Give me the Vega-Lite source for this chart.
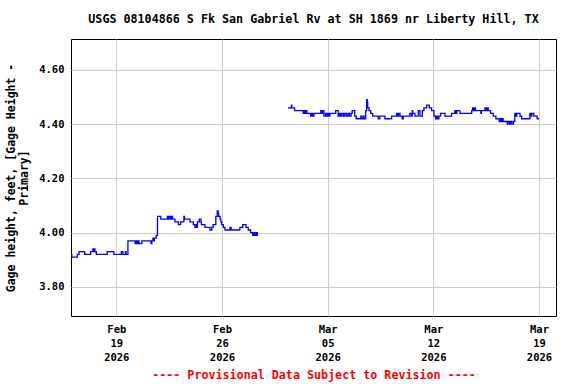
{
  "$schema": "https://vega.github.io/schema/vega-lite/v6.json",
  "width": 485,
  "height": 277,
  "autosize": {"type": "none"},
  "padding": {"left": 71, "top": 39, "right": 20, "bottom": 68},
  "background": "white",
  "config": {
    "view": {"stroke": "black", "strokeWidth": 1},
    "font": "DejaVu Sans Mono"
  },
  "title": {
    "text": "USGS 08104866 S Fk San Gabriel Rv at SH 1869 nr Liberty Hill, TX",
    "font": "DejaVu Sans Mono",
    "fontSize": 11.7,
    "fontWeight": "bold",
    "color": "black",
    "anchor": "middle",
    "offset": 13
  },
  "data": {
    "values": [
      {"t": "2026-02-16T00:00Z", "v": 3.92, "seg": 1},
      {"t": "2026-02-16T01:15Z", "v": 3.91, "seg": 1},
      {"t": "2026-02-16T10:00Z", "v": 3.92, "seg": 1},
      {"t": "2026-02-16T12:45Z", "v": 3.93, "seg": 1},
      {"t": "2026-02-16T21:45Z", "v": 3.92, "seg": 1},
      {"t": "2026-02-17T07:15Z", "v": 3.93, "seg": 1},
      {"t": "2026-02-17T10:45Z", "v": 3.94, "seg": 1},
      {"t": "2026-02-17T12:00Z", "v": 3.93, "seg": 1},
      {"t": "2026-02-17T12:45Z", "v": 3.94, "seg": 1},
      {"t": "2026-02-17T14:00Z", "v": 3.93, "seg": 1},
      {"t": "2026-02-17T16:15Z", "v": 3.92, "seg": 1},
      {"t": "2026-02-18T09:30Z", "v": 3.93, "seg": 1},
      {"t": "2026-02-18T20:00Z", "v": 3.92, "seg": 1},
      {"t": "2026-02-19T08:00Z", "v": 3.93, "seg": 1},
      {"t": "2026-02-19T10:30Z", "v": 3.92, "seg": 1},
      {"t": "2026-02-19T14:30Z", "v": 3.93, "seg": 1},
      {"t": "2026-02-19T15:30Z", "v": 3.92, "seg": 1},
      {"t": "2026-02-19T18:30Z", "v": 3.97, "seg": 1},
      {"t": "2026-02-20T06:00Z", "v": 3.96, "seg": 1},
      {"t": "2026-02-20T07:15Z", "v": 3.97, "seg": 1},
      {"t": "2026-02-20T09:15Z", "v": 3.96, "seg": 1},
      {"t": "2026-02-20T10:45Z", "v": 3.97, "seg": 1},
      {"t": "2026-02-20T12:00Z", "v": 3.96, "seg": 1},
      {"t": "2026-02-20T16:45Z", "v": 3.97, "seg": 1},
      {"t": "2026-02-21T07:15Z", "v": 3.96, "seg": 1},
      {"t": "2026-02-21T08:30Z", "v": 3.97, "seg": 1},
      {"t": "2026-02-21T10:15Z", "v": 3.98, "seg": 1},
      {"t": "2026-02-21T11:30Z", "v": 3.97, "seg": 1},
      {"t": "2026-02-21T12:30Z", "v": 3.98, "seg": 1},
      {"t": "2026-02-21T15:30Z", "v": 3.99, "seg": 1},
      {"t": "2026-02-21T17:30Z", "v": 4.06, "seg": 1},
      {"t": "2026-02-21T22:45Z", "v": 4.05, "seg": 1},
      {"t": "2026-02-22T09:15Z", "v": 4.06, "seg": 1},
      {"t": "2026-02-22T10:45Z", "v": 4.05, "seg": 1},
      {"t": "2026-02-22T12:00Z", "v": 4.06, "seg": 1},
      {"t": "2026-02-22T14:15Z", "v": 4.05, "seg": 1},
      {"t": "2026-02-22T15:30Z", "v": 4.06, "seg": 1},
      {"t": "2026-02-22T17:30Z", "v": 4.05, "seg": 1},
      {"t": "2026-02-22T21:15Z", "v": 4.04, "seg": 1},
      {"t": "2026-02-23T02:45Z", "v": 4.03, "seg": 1},
      {"t": "2026-02-23T06:15Z", "v": 4.04, "seg": 1},
      {"t": "2026-02-23T11:30Z", "v": 4.06, "seg": 1},
      {"t": "2026-02-23T12:30Z", "v": 4.05, "seg": 1},
      {"t": "2026-02-23T21:00Z", "v": 4.04, "seg": 1},
      {"t": "2026-02-24T02:30Z", "v": 4.03, "seg": 1},
      {"t": "2026-02-24T05:00Z", "v": 4.02, "seg": 1},
      {"t": "2026-02-24T07:15Z", "v": 4.03, "seg": 1},
      {"t": "2026-02-24T08:00Z", "v": 4.02, "seg": 1},
      {"t": "2026-02-24T09:00Z", "v": 4.04, "seg": 1},
      {"t": "2026-02-24T12:00Z", "v": 4.05, "seg": 1},
      {"t": "2026-02-24T14:30Z", "v": 4.04, "seg": 1},
      {"t": "2026-02-24T15:15Z", "v": 4.03, "seg": 1},
      {"t": "2026-02-24T21:00Z", "v": 4.02, "seg": 1},
      {"t": "2026-02-25T05:00Z", "v": 4.01, "seg": 1},
      {"t": "2026-02-25T07:45Z", "v": 4.02, "seg": 1},
      {"t": "2026-02-25T10:00Z", "v": 4.03, "seg": 1},
      {"t": "2026-02-25T14:15Z", "v": 4.06, "seg": 1},
      {"t": "2026-02-25T16:30Z", "v": 4.08, "seg": 1},
      {"t": "2026-02-25T18:00Z", "v": 4.07, "seg": 1},
      {"t": "2026-02-25T18:45Z", "v": 4.06, "seg": 1},
      {"t": "2026-02-25T21:00Z", "v": 4.05, "seg": 1},
      {"t": "2026-02-25T22:15Z", "v": 4.04, "seg": 1},
      {"t": "2026-02-25T23:30Z", "v": 4.03, "seg": 1},
      {"t": "2026-02-26T02:15Z", "v": 4.02, "seg": 1},
      {"t": "2026-02-26T04:45Z", "v": 4.01, "seg": 1},
      {"t": "2026-02-26T12:45Z", "v": 4.02, "seg": 1},
      {"t": "2026-02-26T14:30Z", "v": 4.01, "seg": 1},
      {"t": "2026-02-27T04:30Z", "v": 4.02, "seg": 1},
      {"t": "2026-02-27T09:00Z", "v": 4.03, "seg": 1},
      {"t": "2026-02-27T14:15Z", "v": 4.02, "seg": 1},
      {"t": "2026-02-27T17:45Z", "v": 4.01, "seg": 1},
      {"t": "2026-02-27T21:30Z", "v": 4.00, "seg": 1},
      {"t": "2026-02-28T00:45Z", "v": 3.99, "seg": 1},
      {"t": "2026-02-28T02:30Z", "v": 4.00, "seg": 1},
      {"t": "2026-02-28T03:15Z", "v": 3.99, "seg": 1},
      {"t": "2026-02-28T04:45Z", "v": 4.00, "seg": 1},
      {"t": "2026-02-28T06:00Z", "v": 3.99, "seg": 1},
      {"t": "2026-02-28T07:15Z", "v": 4.00, "seg": 1},
      {"t": "2026-02-28T08:15Z", "v": 3.99, "seg": 1},
      {"t": "2026-02-28T09:00Z", "v": 3.99, "seg": 1},
      {"t": "2026-03-02T09:00Z", "v": 4.46, "seg": 2},
      {"t": "2026-03-02T14:15Z", "v": 4.47, "seg": 2},
      {"t": "2026-03-02T15:00Z", "v": 4.46, "seg": 2},
      {"t": "2026-03-02T19:30Z", "v": 4.45, "seg": 2},
      {"t": "2026-03-03T09:15Z", "v": 4.44, "seg": 2},
      {"t": "2026-03-03T10:45Z", "v": 4.45, "seg": 2},
      {"t": "2026-03-03T12:00Z", "v": 4.44, "seg": 2},
      {"t": "2026-03-03T14:00Z", "v": 4.45, "seg": 2},
      {"t": "2026-03-03T15:00Z", "v": 4.44, "seg": 2},
      {"t": "2026-03-03T21:00Z", "v": 4.43, "seg": 2},
      {"t": "2026-03-03T22:45Z", "v": 4.44, "seg": 2},
      {"t": "2026-03-04T00:00Z", "v": 4.43, "seg": 2},
      {"t": "2026-03-04T02:15Z", "v": 4.44, "seg": 2},
      {"t": "2026-03-04T13:00Z", "v": 4.45, "seg": 2},
      {"t": "2026-03-04T14:30Z", "v": 4.44, "seg": 2},
      {"t": "2026-03-04T15:45Z", "v": 4.45, "seg": 2},
      {"t": "2026-03-04T18:00Z", "v": 4.43, "seg": 2},
      {"t": "2026-03-04T20:30Z", "v": 4.44, "seg": 2},
      {"t": "2026-03-04T22:00Z", "v": 4.43, "seg": 2},
      {"t": "2026-03-05T00:00Z", "v": 4.44, "seg": 2},
      {"t": "2026-03-05T02:00Z", "v": 4.43, "seg": 2},
      {"t": "2026-03-05T03:30Z", "v": 4.44, "seg": 2},
      {"t": "2026-03-05T12:45Z", "v": 4.45, "seg": 2},
      {"t": "2026-03-05T16:45Z", "v": 4.43, "seg": 2},
      {"t": "2026-03-05T18:45Z", "v": 4.44, "seg": 2},
      {"t": "2026-03-05T20:30Z", "v": 4.43, "seg": 2},
      {"t": "2026-03-05T22:45Z", "v": 4.44, "seg": 2},
      {"t": "2026-03-06T01:15Z", "v": 4.43, "seg": 2},
      {"t": "2026-03-06T03:30Z", "v": 4.44, "seg": 2},
      {"t": "2026-03-06T06:00Z", "v": 4.43, "seg": 2},
      {"t": "2026-03-06T08:30Z", "v": 4.44, "seg": 2},
      {"t": "2026-03-06T10:45Z", "v": 4.43, "seg": 2},
      {"t": "2026-03-06T13:15Z", "v": 4.44, "seg": 2},
      {"t": "2026-03-06T15:00Z", "v": 4.45, "seg": 2},
      {"t": "2026-03-06T19:00Z", "v": 4.43, "seg": 2},
      {"t": "2026-03-06T21:30Z", "v": 4.42, "seg": 2},
      {"t": "2026-03-07T04:45Z", "v": 4.43, "seg": 2},
      {"t": "2026-03-07T06:00Z", "v": 4.42, "seg": 2},
      {"t": "2026-03-07T08:30Z", "v": 4.43, "seg": 2},
      {"t": "2026-03-07T10:00Z", "v": 4.42, "seg": 2},
      {"t": "2026-03-07T12:30Z", "v": 4.45, "seg": 2},
      {"t": "2026-03-07T14:00Z", "v": 4.49, "seg": 2},
      {"t": "2026-03-07T15:00Z", "v": 4.48, "seg": 2},
      {"t": "2026-03-07T15:45Z", "v": 4.46, "seg": 2},
      {"t": "2026-03-07T17:45Z", "v": 4.45, "seg": 2},
      {"t": "2026-03-07T20:30Z", "v": 4.44, "seg": 2},
      {"t": "2026-03-07T23:30Z", "v": 4.43, "seg": 2},
      {"t": "2026-03-08T08:30Z", "v": 4.42, "seg": 2},
      {"t": "2026-03-08T11:00Z", "v": 4.43, "seg": 2},
      {"t": "2026-03-08T19:00Z", "v": 4.42, "seg": 2},
      {"t": "2026-03-09T05:45Z", "v": 4.43, "seg": 2},
      {"t": "2026-03-09T13:45Z", "v": 4.44, "seg": 2},
      {"t": "2026-03-09T15:30Z", "v": 4.43, "seg": 2},
      {"t": "2026-03-09T16:45Z", "v": 4.44, "seg": 2},
      {"t": "2026-03-09T19:00Z", "v": 4.43, "seg": 2},
      {"t": "2026-03-09T22:30Z", "v": 4.42, "seg": 2},
      {"t": "2026-03-10T00:15Z", "v": 4.43, "seg": 2},
      {"t": "2026-03-10T10:45Z", "v": 4.44, "seg": 2},
      {"t": "2026-03-10T13:15Z", "v": 4.43, "seg": 2},
      {"t": "2026-03-10T14:30Z", "v": 4.45, "seg": 2},
      {"t": "2026-03-10T15:15Z", "v": 4.44, "seg": 2},
      {"t": "2026-03-10T18:45Z", "v": 4.43, "seg": 2},
      {"t": "2026-03-11T00:00Z", "v": 4.45, "seg": 2},
      {"t": "2026-03-11T02:45Z", "v": 4.43, "seg": 2},
      {"t": "2026-03-11T06:30Z", "v": 4.45, "seg": 2},
      {"t": "2026-03-11T09:00Z", "v": 4.46, "seg": 2},
      {"t": "2026-03-11T13:30Z", "v": 4.47, "seg": 2},
      {"t": "2026-03-11T17:30Z", "v": 4.46, "seg": 2},
      {"t": "2026-03-11T21:15Z", "v": 4.45, "seg": 2},
      {"t": "2026-03-12T01:00Z", "v": 4.43, "seg": 2},
      {"t": "2026-03-12T03:30Z", "v": 4.42, "seg": 2},
      {"t": "2026-03-12T05:15Z", "v": 4.43, "seg": 2},
      {"t": "2026-03-12T06:45Z", "v": 4.42, "seg": 2},
      {"t": "2026-03-12T09:00Z", "v": 4.43, "seg": 2},
      {"t": "2026-03-12T11:30Z", "v": 4.44, "seg": 2},
      {"t": "2026-03-12T18:30Z", "v": 4.43, "seg": 2},
      {"t": "2026-03-13T05:00Z", "v": 4.44, "seg": 2},
      {"t": "2026-03-13T10:15Z", "v": 4.45, "seg": 2},
      {"t": "2026-03-13T12:00Z", "v": 4.44, "seg": 2},
      {"t": "2026-03-13T13:15Z", "v": 4.45, "seg": 2},
      {"t": "2026-03-13T18:15Z", "v": 4.44, "seg": 2},
      {"t": "2026-03-14T13:00Z", "v": 4.45, "seg": 2},
      {"t": "2026-03-14T14:30Z", "v": 4.46, "seg": 2},
      {"t": "2026-03-14T15:45Z", "v": 4.45, "seg": 2},
      {"t": "2026-03-14T17:15Z", "v": 4.46, "seg": 2},
      {"t": "2026-03-14T19:00Z", "v": 4.45, "seg": 2},
      {"t": "2026-03-15T03:30Z", "v": 4.44, "seg": 2},
      {"t": "2026-03-15T04:15Z", "v": 4.45, "seg": 2},
      {"t": "2026-03-15T10:00Z", "v": 4.46, "seg": 2},
      {"t": "2026-03-15T12:00Z", "v": 4.45, "seg": 2},
      {"t": "2026-03-15T13:15Z", "v": 4.46, "seg": 2},
      {"t": "2026-03-15T15:15Z", "v": 4.45, "seg": 2},
      {"t": "2026-03-15T19:00Z", "v": 4.44, "seg": 2},
      {"t": "2026-03-15T23:15Z", "v": 4.43, "seg": 2},
      {"t": "2026-03-16T03:30Z", "v": 4.42, "seg": 2},
      {"t": "2026-03-16T08:45Z", "v": 4.41, "seg": 2},
      {"t": "2026-03-16T11:00Z", "v": 4.42, "seg": 2},
      {"t": "2026-03-16T12:30Z", "v": 4.41, "seg": 2},
      {"t": "2026-03-16T13:30Z", "v": 4.42, "seg": 2},
      {"t": "2026-03-16T15:00Z", "v": 4.41, "seg": 2},
      {"t": "2026-03-16T21:30Z", "v": 4.40, "seg": 2},
      {"t": "2026-03-16T22:45Z", "v": 4.41, "seg": 2},
      {"t": "2026-03-17T01:15Z", "v": 4.40, "seg": 2},
      {"t": "2026-03-17T02:30Z", "v": 4.41, "seg": 2},
      {"t": "2026-03-17T04:45Z", "v": 4.40, "seg": 2},
      {"t": "2026-03-17T07:15Z", "v": 4.41, "seg": 2},
      {"t": "2026-03-17T09:30Z", "v": 4.44, "seg": 2},
      {"t": "2026-03-17T11:30Z", "v": 4.43, "seg": 2},
      {"t": "2026-03-17T12:45Z", "v": 4.44, "seg": 2},
      {"t": "2026-03-17T17:45Z", "v": 4.43, "seg": 2},
      {"t": "2026-03-17T20:30Z", "v": 4.42, "seg": 2},
      {"t": "2026-03-18T09:30Z", "v": 4.44, "seg": 2},
      {"t": "2026-03-18T11:30Z", "v": 4.43, "seg": 2},
      {"t": "2026-03-18T12:45Z", "v": 4.44, "seg": 2},
      {"t": "2026-03-18T15:45Z", "v": 4.43, "seg": 2},
      {"t": "2026-03-18T21:00Z", "v": 4.42, "seg": 2},
      {"t": "2026-03-19T00:15Z", "v": 4.42, "seg": 2}
    ]
  },
  "mark": {"type": "line", "interpolate": "step-after", "color": "#0000ff", "strokeWidth": 1.3, "clip": true},
  "encoding": {
    "x": {
      "field": "t",
      "type": "temporal",
      "scale": {
        "type": "utc",
        "domain": [
          {"year": 2026, "month": 2, "date": 16, "hours": 0, "utc": true},
          {"year": 2026, "month": 3, "date": 20, "hours": 3, "utc": true}
        ]
      },
      "axis": {
        "values": [
          {"year": 2026, "month": 2, "date": 19, "utc": true},
          {"year": 2026, "month": 2, "date": 26, "utc": true},
          {"year": 2026, "month": 3, "date": 5, "utc": true},
          {"year": 2026, "month": 3, "date": 12, "utc": true},
          {"year": 2026, "month": 3, "date": 19, "utc": true}
        ],
        "labelExpr": "[utcFormat(datum.value, '%b'), utcFormat(datum.value, '%d'), utcFormat(datum.value, '%Y')]",
        "labelFont": "DejaVu Sans Mono",
        "labelFontWeight": "bold",
        "labelFontSize": 10.5,
        "labelColor": "black",
        "labelLineHeight": 14,
        "labelPadding": 8,
        "labelBaseline": "top",
        "labelFlush": false,
        "labelOverlap": false,
        "ticks": false,
        "domain": false,
        "grid": true,
        "gridColor": "#cccccc",
        "gridWidth": 1,
        "title": "---- Provisional Data Subject to Revision ----",
        "titleFont": "DejaVu Sans Mono",
        "titleFontWeight": "bold",
        "titleFontSize": 11.7,
        "titleColor": "#ff0000",
        "titlePadding": 7
      }
    },
    "y": {
      "field": "v",
      "type": "quantitative",
      "scale": {"domain": [3.693, 4.714], "zero": false, "nice": false},
      "axis": {
        "values": [3.8, 4.0, 4.2, 4.4, 4.6],
        "format": ".2f",
        "labelFont": "DejaVu Sans Mono",
        "labelFontWeight": "bold",
        "labelFontSize": 10.5,
        "labelColor": "black",
        "labelPadding": 7,
        "ticks": false,
        "domain": false,
        "grid": true,
        "gridColor": "#cccccc",
        "gridWidth": 1,
        "title": ["Gage height, feet, [Gage Height -", "Primary]"],
        "titleFont": "DejaVu Sans Mono",
        "titleFontWeight": "bold",
        "titleFontSize": 11.5,
        "titleColor": "black",
        "titleLineHeight": 13,
        "titlePadding": 9
      }
    },
    "detail": {"field": "seg", "type": "nominal"}
  }
}
